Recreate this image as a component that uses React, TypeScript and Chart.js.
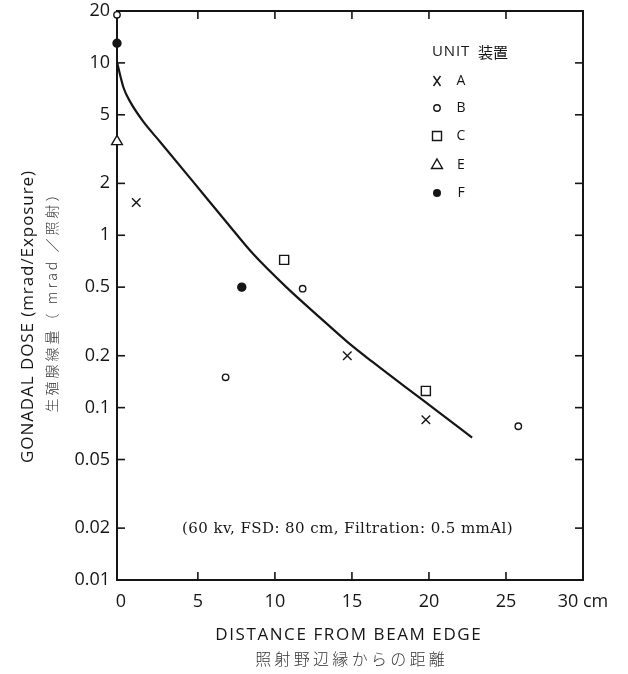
import React, { useEffect, useRef } from 'react';
import { Chart, registerables } from 'chart.js';

Chart.register(...registerables);

// ---- data ----
const xTickValues = [0, 5, 10, 15, 20, 25, 30];
const yTickValues = [0.01, 0.02, 0.05, 0.1, 0.2, 0.5, 1, 2, 5, 10, 20];

const unitAX = [1.0, 14.7, 19.8];
const unitAY = [1.55, 0.2, 0.085];
const unitBX = [-0.25, 6.8, 11.8, 25.8];
const unitBY = [19, 0.15, 0.49, 0.078];
const unitCX = [10.6, 19.8];
const unitCY = [0.72, 0.125];
const unitEX = [-0.25];
const unitEY = [3.5];
const unitFX = [-0.25, 7.85];
const unitFY = [13, 0.5];

const curveX = [-0.24, 0.17, 0.6, 1.46, 2.54, 4.7, 6.86, 8.58, 10.74, 12.89, 14.72, 16.34, 18.5, 20.65, 22.8];
const curveY = [10, 7.2, 5.96, 4.56, 3.49, 2.04, 1.19, 0.78, 0.5, 0.335, 0.24, 0.184, 0.131, 0.094, 0.067];

const legendUnits = ['A', 'B', 'C', 'E', 'F'];

const zip = (xs: number[], ys: number[]) => xs.map((x, i) => ({ x, y: ys[i] }));

const INK = '#151515';
const SANS = "'Open Sans', 'DejaVu Sans', sans-serif";
const CJK = "'Noto Sans CJK JP', sans-serif";
const SERIF = "'DejaVu Serif', 'Liberation Serif', serif";

function fitText(ctx: any, text: string, x: number, y: number, width: number, align: 'left' | 'center') {
  ctx.letterSpacing = '0px';
  const w = ctx.measureText(text).width;
  const n = Array.from(text).length;
  const ls = Math.max(-1, (width - w) / n);
  ctx.letterSpacing = `${ls}px`;
  const total = w + ls * n;
  ctx.textAlign = 'left';
  const sx = align === 'center' ? x - total / 2 + ls / 2 : x;
  ctx.fillText(text, sx, y);
  ctx.letterSpacing = '0px';
}

function drawMarker(ctx: CanvasRenderingContext2D, unit: string, x: number, y: number) {
  ctx.save();
  ctx.strokeStyle = INK;
  ctx.fillStyle = '#fff';
  ctx.lineWidth = 1.4;
  ctx.beginPath();
  if (unit === 'A') {
    ctx.moveTo(x - 3.5, y - 5); ctx.lineTo(x + 3.5, y + 5);
    ctx.moveTo(x + 3.5, y - 5); ctx.lineTo(x - 3.5, y + 5);
    ctx.stroke();
  } else if (unit === 'B') {
    ctx.arc(x, y, 3.2, 0, Math.PI * 2); ctx.fill(); ctx.stroke();
  } else if (unit === 'C') {
    ctx.rect(x - 4.5, y - 4.5, 9, 9); ctx.fill(); ctx.stroke();
  } else if (unit === 'E') {
    ctx.moveTo(x, y - 6); ctx.lineTo(x + 5.5, y + 3.5); ctx.lineTo(x - 5.5, y + 3.5); ctx.closePath(); ctx.fill(); ctx.stroke();
  } else {
    ctx.fillStyle = INK; ctx.arc(x, y, 4, 0, Math.PI * 2); ctx.fill();
  }
  ctx.restore();
}

const framePlugin = {
  id: 'frame',
  beforeDatasetsDraw(chart: any) {
    const { ctx, chartArea: a, scales } = chart;
    const sx = scales.x, sy = scales.y;
    ctx.save();
    ctx.strokeStyle = INK;
    ctx.lineWidth = 2;
    ctx.strokeRect(a.left, a.top, a.right - a.left, a.bottom - a.top);
    ctx.lineWidth = 1.6;
    const tl = 8;
    const line = (x1: number, y1: number, x2: number, y2: number) => {
      ctx.beginPath(); ctx.moveTo(x1, y1); ctx.lineTo(x2, y2); ctx.stroke();
    };
    yTickValues.forEach((v) => {
      if (v <= 0.01 || v >= 20) return;
      const py = sy.getPixelForValue(v);
      line(a.left, py, a.left + tl, py);
      line(a.right, py, a.right - tl, py);
    });
    xTickValues.forEach((v) => {
      if (v <= 0 || v >= 30) return;
      const px = sx.getPixelForValue(v);
      line(px, a.bottom, px, a.bottom - tl);
      line(px, a.top, px, a.top + tl);
    });
    ctx.restore();
  },
  afterDraw(chart: any) {
    const { ctx } = chart;
    ctx.save();
    ctx.fillStyle = INK;
    ctx.textBaseline = 'middle';
    // y titles
    ctx.save();
    ctx.translate(28, 317);
    ctx.rotate(-Math.PI / 2);
    ctx.font = `17px ${SANS}`;
    fitText(ctx, 'GONADAL DOSE (mrad/Exposure)', 0, 0, 293, 'center');
    ctx.restore();
    ctx.save();
    ctx.translate(52, 300);
    ctx.rotate(-Math.PI / 2);
    ctx.font = `300 14px ${CJK}`;
    ctx.fillStyle = '#333';
    fitText(ctx, '生殖腺線量（ mrad ／照射）', 0, 0, 228, 'center');
    ctx.restore();
    // x titles
    ctx.font = `17px ${SANS}`;
    fitText(ctx, 'DISTANCE FROM BEAM EDGE', 348, 635, 267, 'center');
    ctx.font = `300 16px ${CJK}`;
    ctx.fillStyle = '#333';
    fitText(ctx, '照射野辺縁からの距離', 350, 659, 193, 'center');
    // annotation
    ctx.fillStyle = INK;
    ctx.font = `15px ${SERIF}`;
    fitText(ctx, '(60 kv, FSD: 80 cm, Filtration: 0.5 mmAl)', 182, 529, 331, 'left');
    // legend
    ctx.textAlign = 'left';
    ctx.font = `15px ${SANS}`;
    fitText(ctx, 'UNIT', 432, 52, 38, 'left');
    ctx.font = `400 15px ${CJK}`;
    ctx.fillText('装置', 478, 52);
    const ys = [81, 108, 136, 165, 193];
    ctx.font = `14px ${SANS}`;
    legendUnits.forEach((u, i) => {
      drawMarker(ctx, u, 437, ys[i]);
      ctx.textAlign = 'center';
      ctx.fillText(u, 461, ys[i]);
    });
    ctx.restore();
  },
};

const pointDataset = (label: string, xs: number[], ys: number[], style: any) => ({
  type: 'scatter' as const,
  label,
  data: zip(xs, ys),
  clip: false,
  borderColor: INK,
  borderWidth: 1.4,
  backgroundColor: '#fff',
  ...style,
});

export default function App() {
  const ref = useRef<HTMLCanvasElement>(null);
  useEffect(() => {
    document.body.style.margin = '0';
    document.body.style.background = '#fff';
    const chart = new Chart(ref.current!, {
      type: 'scatter',
      data: {
        datasets: [
          {
            type: 'line',
            label: 'curve',
            data: zip(curveX, curveY),
            borderColor: INK,
            borderWidth: 2.2,
            pointRadius: 0,
            cubicInterpolationMode: 'monotone',
            fill: false,
          } as any,
          pointDataset('A', unitAX, unitAY, { pointStyle: 'crossRot', pointRadius: 6 }),
          pointDataset('B', unitBX, unitBY, { pointStyle: 'circle', pointRadius: 3.2 }),
          pointDataset('C', unitCX, unitCY, { pointStyle: 'rect', pointRadius: 6.4 }),
          pointDataset('E', unitEX, unitEY, { pointStyle: 'triangle', pointRadius: 6.2 }),
          pointDataset('F', unitFX, unitFY, { pointStyle: 'circle', pointRadius: 4, backgroundColor: INK }),
        ],
      },
      options: {
        animation: false,
        responsive: true,
        maintainAspectRatio: false,
        layout: { padding: { top: 11, right: 45, left: 0, bottom: 0 } },
        plugins: { legend: { display: false }, tooltip: { enabled: false } },
        scales: {
          x: {
            type: 'linear',
            min: -0.25,
            max: 30,
            afterBuildTicks: (s: any) => { s.ticks = xTickValues.map((v) => ({ value: v })); },
            afterFit: (s: any) => { s.height = 94; s.paddingLeft = 0; s.paddingRight = 0; },
            grid: { display: false, drawTicks: false },
            border: { display: false },
            ticks: {
              padding: 11,
              color: INK,
              font: { family: SANS, size: 18 },
              maxRotation: 0,
              autoSkip: false,
              callback: (v: any) => (v === 30 ? '30 cm' : String(v)),
            },
          },
          y: {
            type: 'logarithmic',
            min: 0.01,
            max: 20,
            afterBuildTicks: (s: any) => { s.ticks = yTickValues.map((v) => ({ value: v })); },
            afterFit: (s: any) => { s.width = 117; s.paddingTop = 0; s.paddingBottom = 0; },
            grid: { display: false, drawTicks: false },
            border: { display: false },
            ticks: {
              padding: 7,
              color: INK,
              font: { family: SANS, size: 18 },
              autoSkip: false,
              callback: (v: any) => String(v),
            },
          },
        },
      },
      plugins: [framePlugin],
    });
    return () => chart.destroy();
  }, []);
  return (
    <div style={{ width: 628, height: 674, position: 'relative', background: '#fff' }}>
      <canvas ref={ref} />
    </div>
  );
}
